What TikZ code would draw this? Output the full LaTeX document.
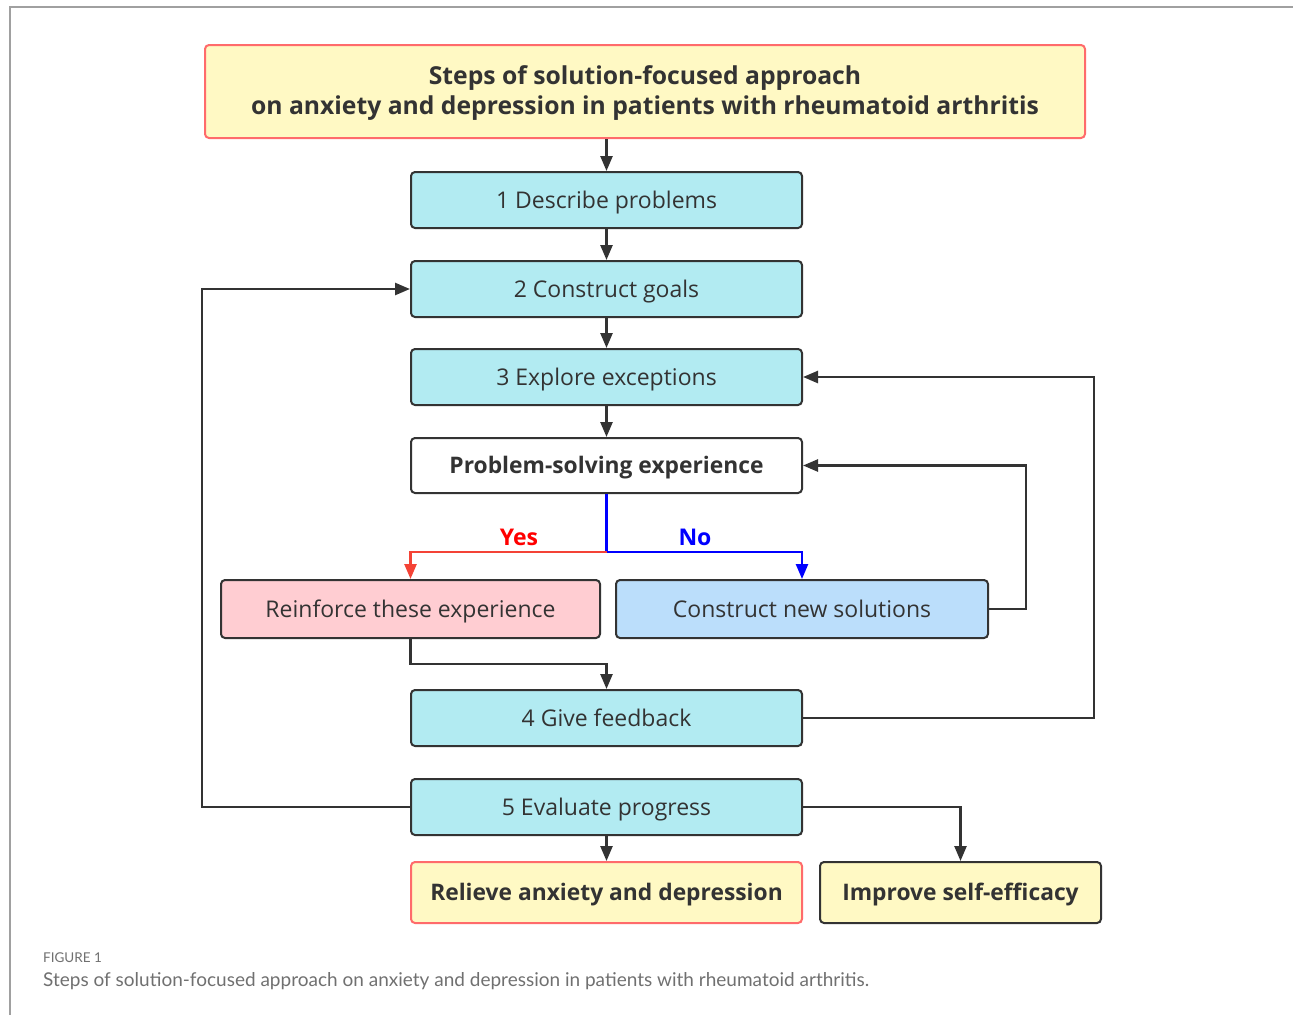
\documentclass[tikz,border=0pt]{standalone}
\usepackage{fontspec}
\setmainfont{Open Sans}
\newfontfamily\capfont{Lato}
\usetikzlibrary{arrows.meta}
\definecolor{txt}{HTML}{333333}
\definecolor{cyanbox}{HTML}{B2EBF2}
\definecolor{pinkbox}{HTML}{FFCDD2}
\definecolor{bluebox}{HTML}{BBDEFB}
\definecolor{yelbox}{HTML}{FFF9C4}
\definecolor{redline}{HTML}{FF6B6B}
\definecolor{yesred}{HTML}{F44336}
\definecolor{frame}{HTML}{A0A0A0}
\definecolor{capgrey}{HTML}{707070}
\tikzset{
  box/.style={draw=txt, line width=2pt, rounded corners=4pt, text=txt,
    font=\fontsize{23}{27}\selectfont, align=center, inner sep=0pt,
    text height=18pt, text depth=2pt},
  stepbox/.style={box, fill=cyanbox, minimum width=391pt, minimum height=56pt},
  boldbox/.style={box, font=\fontsize{22.8}{27}\selectfont\bfseries},
  tip/.style={-{Triangle[length=15pt,width=12pt]}},
  conn/.style={draw=txt, line width=2.5pt, tip},
}
\begin{document}
\begin{tikzpicture}[x=1pt,y=-1pt]
\useasboundingbox (0,0) rectangle (1293,1015);
% frame
\draw[frame, line width=1.2pt] (10,1015) -- (10,7) -- (1293,7);
% nodes
\node[box, draw=redline, fill=yelbox, minimum width=880pt, minimum height=93pt,
  font=\fontsize{24.7}{29.5}\selectfont\bfseries, text height=48.5pt, text depth=3.5pt] (title) at (645,91.5)
  {Steps of solution-focused approach\\on anxiety and depression in patients with rheumatoid arthritis};
\node[stepbox] (b1) at (606.5,200) {1 Describe problems};
\node[stepbox] (b2) at (606.5,289) {2 Construct goals};
\node[stepbox] (b3) at (606.5,377) {3 Explore exceptions};
\node[boldbox, fill=white, minimum width=391pt, minimum height=55pt] (ps) at (606.5,465.5) {Problem-solving experience};
\node[box, fill=pinkbox, minimum width=379pt, minimum height=58pt] (re) at (410.5,609) {Reinforce these experience};
\node[box, fill=bluebox, minimum width=372pt, minimum height=58pt] (cn) at (802,609) {Construct new solutions};
\node[stepbox] (b4) at (606.5,718) {4 Give feedback};
\node[stepbox] (b5) at (606.5,807) {5 Evaluate progress};
\node[boldbox, draw=redline, fill=yelbox, minimum width=391pt, minimum height=61pt] (rel) at (606.5,892.5) {Relieve anxiety and depression};
\node[boldbox, fill=yelbox, minimum width=281pt, minimum height=61pt] (imp) at (960.5,892.5) {Improve self-efficacy};
% coordinates
\coordinate (split) at (606.5,552);
\coordinate (mid) at (606.5,664);
% connectors
\draw[conn] (title.south -| b1.north) -- (b1.north);
\draw[conn] (b1) -- (b2);
\draw[conn] (b2) -- (b3);
\draw[conn] (b3) -- (ps);
\draw[line width=2.5pt, draw=blue] (ps.south) -- (split);
\draw[line width=2.5pt, draw=yesred, tip] (split) -| (re.north);
\draw[line width=2.5pt, draw=blue, tip] (split) -| (cn.north);
\node[anchor=base, inner sep=0pt, font=\fontsize{23}{27}\selectfont\bfseries, text=red] (yes) at (519,545) {Yes};
\node[anchor=base, inner sep=0pt, font=\fontsize{23}{27}\selectfont\bfseries, text=blue] (no) at (695,545) {No};
\draw[conn] (re.south) |- (mid) -- (b4.north);
\draw[conn] (cn.east) -- ++(37,0) |- (ps.east);
\draw[conn] (b4.east) -- ++(291,0) |- (b3.east);
\draw[conn] (b5.west) -- ++(-208,0) |- (b2.west);
\draw[conn] (b5) -- (rel);
\draw[conn] (b5.east) -| (imp.north);
% caption
\node[anchor=base west, inner sep=0pt, text=capgrey, font=\capfont\fontsize{13.5}{15}\selectfont] (figlabel) at (43,962) {FIGURE 1};
\node[anchor=base west, inner sep=0pt, text=capgrey, font=\capfont\fontsize{19}{22}\selectfont] (caption) at (43,986) {Steps of solution-focused approach on anxiety and depression in patients with rheumatoid arthritis.};
\end{tikzpicture}
\end{document}
